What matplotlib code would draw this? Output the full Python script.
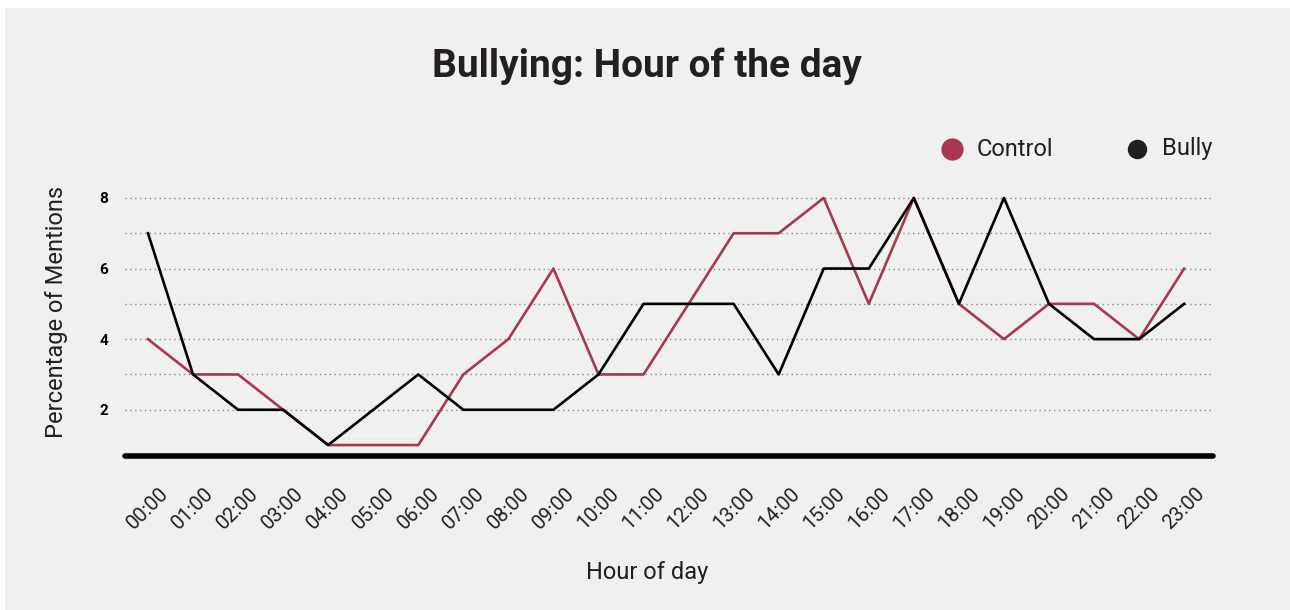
import matplotlib
matplotlib.use("Agg")
import matplotlib.pyplot as plt
from matplotlib.patches import Rectangle
from matplotlib.lines import Line2D

# Data (percentage of mentions per hour)
HOURS = [f"{h:02d}:00" for h in range(24)]
CONTROL = [4, 3, 3, 2, 1, 1, 1, 3, 4, 6, 3, 3, 5, 7, 7, 8, 5, 8, 5, 4, 5, 5, 4, 6]
BULLY   = [7, 3, 2, 2, 1, 2, 3, 2, 2, 2, 3, 5, 5, 5, 3, 6, 6, 8, 5, 8, 5, 4, 4, 5]

C_CONTROL = "#a8384f"
C_BULLY   = "#000000"
TXT       = "#231f20"
BG        = "#f0f0f0"

plt.rcParams["font.family"] = ["Roboto", "DejaVu Sans"]

W, H = 1290, 610
fig = plt.figure(figsize=(W / 100, H / 100), dpi=100)
fig.patch.set_facecolor("white")
fig.add_artist(Rectangle((5 / W, 0), 1, 1 - 8 / H, transform=fig.transFigure,
                         facecolor=BG, edgecolor="none", zorder=-10))


def fx(px):
    return px / W


def fy(py):
    return 1 - py / H


# axes placed in pixel coordinates
ax_l, ax_r, ax_t, ax_b = 125, 1213, 187, 456
ax = fig.add_axes([fx(ax_l), fy(ax_b), (ax_r - ax_l) / W, (ax_b - ax_t) / H])
ax.set_facecolor("none")

x = list(range(len(HOURS)))
ax.plot(x, CONTROL, color=C_CONTROL, lw=1.9, zorder=3)
ax.plot(x, BULLY, color=C_BULLY, lw=1.9, zorder=4)

ax.set_xlim(-0.51, 23.64)
ax.set_ylim(0.69, 8.31)

for v in range(2, 9):
    ax.axhline(v, color="#888888", lw=1, ls=(0, (1, 2.5)), zorder=1)
ax.axhline(0.69, color="black", lw=4, solid_capstyle="round", zorder=5, clip_on=False)

ax.set_xticks(x)
ax.set_xticklabels(HOURS, rotation=45, ha="center", va="top",
                   fontsize=14.5, color=TXT)
ax.set_yticks([2, 4, 6, 8])
ax.set_yticklabels(["2", "4", "6", "8"], fontsize=11, fontweight="bold", color="black")
ax.tick_params(axis="x", length=0, pad=20)
ax.tick_params(axis="y", length=0, pad=12)
for s in ax.spines.values():
    s.set_visible(False)

fig.text(fx(57), fy(312), "Percentage of Mentions", rotation=90,
         ha="center", va="center", fontsize=17, color=TXT)
fig.text(fx(647), fy(572), "Hour of day", ha="center", va="center",
         fontsize=17, color=TXT)
fig.text(fx(647), fy(66), "Bullying: Hour of the day", ha="center", va="center",
         fontsize=28, fontweight="bold", color=TXT)

# legend drawn by hand
legend_items = [("Control", C_CONTROL, 952, 15), ("Bully", "#231f20", 1137, 13)]
for name, col, px, ms in legend_items:
    fig.add_artist(Line2D([fx(px)], [fy(149)], marker="o", ms=ms, color=col,
                          ls="none", transform=fig.transFigure))
    fig.text(fx(px + 25), fy(149), name, ha="left", va="center",
             fontsize=17, color=TXT)

fig.savefig("out.png", dpi=100, facecolor=fig.get_facecolor())
